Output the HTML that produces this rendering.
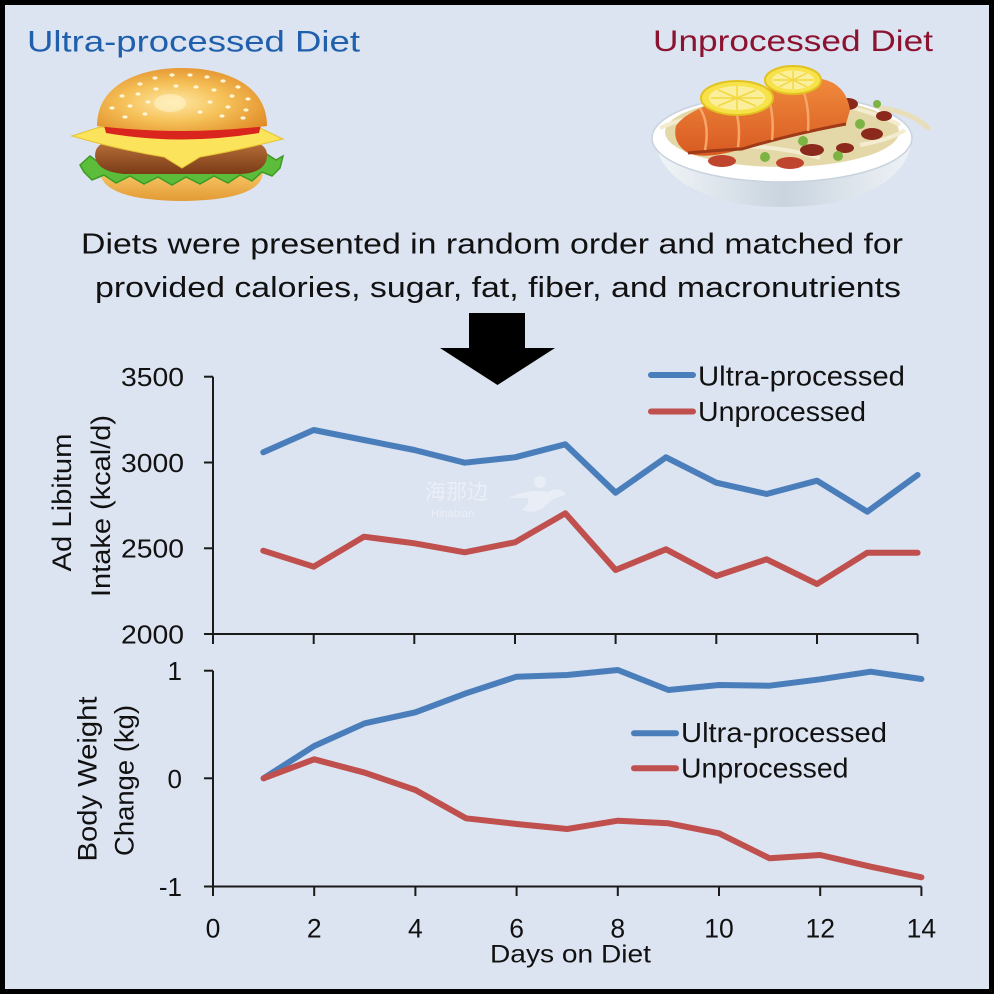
<!DOCTYPE html>
<html>
<head>
<meta charset="utf-8">
<style>
html,body{margin:0;padding:0;background:#fff;}
svg{display:block;}
text{font-family:"Liberation Sans","Noto Sans CJK SC",sans-serif;}
</style>
</head>
<body>
<svg width="996" height="996" viewBox="0 0 996 996" xmlns="http://www.w3.org/2000/svg">
<defs>
<radialGradient id="bun" cx="0.45" cy="0.55" r="0.65">
<stop offset="0" stop-color="#fde8a6"/>
<stop offset="0.45" stop-color="#f6c25a"/>
<stop offset="1" stop-color="#e08a25"/>
</radialGradient>
<linearGradient id="bbun" x1="0" y1="0" x2="0" y2="1">
<stop offset="0" stop-color="#f7c866"/>
<stop offset="1" stop-color="#e39a35"/>
</linearGradient>
<linearGradient id="patty" x1="0" y1="0" x2="0" y2="1">
<stop offset="0" stop-color="#b8703a"/>
<stop offset="1" stop-color="#7a3b16"/>
</linearGradient>
<linearGradient id="bowl" x1="0" y1="0" x2="1" y2="0">
<stop offset="0" stop-color="#f2f5f8"/>
<stop offset="0.5" stop-color="#c9d4df"/>
<stop offset="1" stop-color="#eef2f6"/>
</linearGradient>
<linearGradient id="salmon" x1="0" y1="0" x2="0" y2="1">
<stop offset="0" stop-color="#f08a3c"/>
<stop offset="1" stop-color="#d85a22"/>
</linearGradient>
</defs>

<!-- background and border -->
<rect x="0" y="0" width="996" height="996" fill="#ffffff"/>
<rect x="2.5" y="2.5" width="989" height="989" fill="#dce3f1" stroke="#000" stroke-width="5"/>

<!-- titles -->
<text x="27" y="51.5" font-size="30" fill="#1f5fab" textLength="333" lengthAdjust="spacingAndGlyphs">Ultra-processed Diet</text>
<text x="653" y="51" font-size="30" fill="#8c1330" textLength="280" lengthAdjust="spacingAndGlyphs">Unprocessed Diet</text>

<!-- burger -->
<path d="M100,172 L263,172 Q262,200 182,201 Q102,200 100,172 Z" fill="url(#bbun)"/>
<path d="M80,165 L90,156 L98,162 L108,154 L118,161 L130,153 L142,160 L155,152 L168,159 L182,151 L196,159 L210,152 L224,160 L238,152 L252,160 L265,153 L276,160 L283,156 L280,168 L272,176 L262,172 L252,181 L240,175 L228,183 L214,176 L200,184 L186,177 L172,185 L158,177 L144,184 L130,176 L116,183 L104,175 L92,180 L84,172 Z" fill="#5cbd3a" stroke="#3e9a26" stroke-width="1.5"/>
<path d="M95,156 Q95,142 112,142 L252,142 Q268,144 267,157 Q265,173 240,174 L125,174 Q97,172 95,156 Z" fill="url(#patty)"/>
<path d="M72,136 L100,127 Q182,134 258,127 L283,139 Q240,150 200,157 L182,168 L164,157 Q120,150 72,136 Z" fill="#fbe35c" stroke="#e7c431" stroke-width="1"/>
<path d="M103,121 Q182,137 262,121 L259,133 Q182,146 106,133 Z" fill="#d9251d"/>
<path d="M97,126 C97,84 140,68 182,68 C224,68 267,84 267,126 Q182,136 97,126 Z" fill="url(#bun)"/>
<g fill="#fff6d8">
<ellipse cx="140" cy="84" rx="2.6" ry="1.6"/><ellipse cx="155" cy="78" rx="2.6" ry="1.6"/><ellipse cx="172" cy="75" rx="2.6" ry="1.6"/><ellipse cx="190" cy="75" rx="2.6" ry="1.6"/><ellipse cx="207" cy="77" rx="2.6" ry="1.6"/><ellipse cx="223" cy="81" rx="2.6" ry="1.6"/><ellipse cx="238" cy="87" rx="2.6" ry="1.6"/>
<ellipse cx="122" cy="96" rx="2.6" ry="1.6"/><ellipse cx="138" cy="94" rx="2.6" ry="1.6"/><ellipse cx="156" cy="89" rx="2.6" ry="1.6"/><ellipse cx="176" cy="86" rx="2.6" ry="1.6"/><ellipse cx="196" cy="87" rx="2.6" ry="1.6"/><ellipse cx="214" cy="90" rx="2.6" ry="1.6"/><ellipse cx="232" cy="96" rx="2.6" ry="1.6"/><ellipse cx="248" cy="99" rx="2.6" ry="1.6"/>
<ellipse cx="112" cy="108" rx="2.6" ry="1.6"/><ellipse cx="130" cy="106" rx="2.6" ry="1.6"/><ellipse cx="148" cy="102" rx="2.6" ry="1.6"/><ellipse cx="210" cy="102" rx="2.6" ry="1.6"/><ellipse cx="228" cy="107" rx="2.6" ry="1.6"/><ellipse cx="246" cy="110" rx="2.6" ry="1.6"/>
<ellipse cx="125" cy="117" rx="2.6" ry="1.6"/><ellipse cx="145" cy="114" rx="2.6" ry="1.6"/><ellipse cx="200" cy="112" rx="2.6" ry="1.6"/><ellipse cx="222" cy="116" rx="2.6" ry="1.6"/><ellipse cx="243" cy="118" rx="2.6" ry="1.6"/>
</g>
<ellipse cx="170" cy="103" rx="16" ry="9" fill="#fff3c8" opacity="0.6"/>

<!-- bowl -->
<path d="M655,140 C660,186 720,207 782,207 C850,207 906,186 912,140 Z" fill="url(#bowl)"/>
<ellipse cx="782" cy="138" rx="130" ry="44" fill="#ffffff" stroke="#c9d3de" stroke-width="1.5"/>
<ellipse cx="782" cy="132" rx="117" ry="35" fill="#e4d8a8"/>
<path d="M660,128 Q700,110 740,118 M700,150 Q760,140 820,158 M820,100 Q870,110 900,125 M860,145 Q890,140 905,130" stroke="#f3ecd0" stroke-width="4" fill="none"/>
<path d="M880,108 Q912,112 928,128" stroke="#e8dfb8" stroke-width="5" fill="none" stroke-linecap="round"/>
<g fill="#8b2a1c">
<ellipse cx="822" cy="120" rx="12" ry="7"/><ellipse cx="848" cy="104" rx="10" ry="6"/><ellipse cx="872" cy="134" rx="11" ry="6"/><ellipse cx="812" cy="150" rx="12" ry="6"/><ellipse cx="884" cy="116" rx="8" ry="5"/><ellipse cx="845" cy="148" rx="9" ry="5"/>
</g>
<g fill="#c0452e">
<ellipse cx="722" cy="161" rx="14" ry="6"/><ellipse cx="790" cy="163" rx="14" ry="6"/><ellipse cx="700" cy="116" rx="9" ry="5"/>
</g>
<g fill="#7cb342">
<circle cx="836" cy="112" r="5"/><circle cx="803" cy="141" r="5"/><circle cx="860" cy="124" r="5"/><circle cx="765" cy="157" r="5"/><circle cx="838" cy="156" r="5"/><circle cx="877" cy="104" r="4"/>
</g>
<path d="M676,126 Q688,106 760,90 L822,79 Q846,84 850,110 L846,124 Q792,134 742,149 Q705,160 688,153 Q672,143 676,126 Z" fill="url(#salmon)"/>
<path d="M688,153 Q720,150 742,149 Q792,134 846,124" stroke="#9e3a18" stroke-width="3" fill="none"/>
<path d="M700,108 Q710,125 705,150 M730,98 Q742,118 738,147 M765,90 Q775,110 772,140 M800,83 Q810,103 808,131" stroke="#f7a669" stroke-width="2.5" fill="none"/>
<ellipse cx="737" cy="98" rx="36" ry="17" fill="#f7e24a" stroke="#e2c21f" stroke-width="2"/>
<ellipse cx="737" cy="98" rx="28" ry="12" fill="#fbef9c"/>
<path d="M737,86 L737,110 M711,98 L763,98 M718,90 L756,106 M718,106 L756,90" stroke="#f1d842" stroke-width="1.5"/>
<ellipse cx="793" cy="80" rx="28" ry="14" fill="#f7e24a" stroke="#e2c21f" stroke-width="2"/>
<ellipse cx="793" cy="80" rx="21" ry="9.5" fill="#fbef9c"/>
<path d="M793,71 L793,89 M773,80 L813,80 M779,73 L807,87 M779,87 L807,73" stroke="#f1d842" stroke-width="1.5"/>

<!-- middle text -->
<text x="81" y="253.5" font-size="28.5" fill="#111" textLength="822" lengthAdjust="spacingAndGlyphs">Diets were presented in random order and matched for</text>
<text x="95" y="297" font-size="28.5" fill="#111" textLength="806" lengthAdjust="spacingAndGlyphs">provided calories, sugar, fat, fiber, and macronutrients</text>

<!-- arrow -->
<polygon points="469,313 525,313 525,348 555,348 497.5,385 440,348 469,348" fill="#000"/>

<!-- watermark -->
<text x="425" y="499" font-size="21" fill="#ffffff" opacity="0.45">海那边</text>
<text x="431" y="517" font-size="11" fill="#ffffff" opacity="0.45">Hinabian</text>
<path d="M508,498 Q530,488 548,492 Q560,485 566,495 Q552,498 545,506 Q535,515 522,510 Q530,503 528,498 Z" fill="#ffffff" opacity="0.35"/>
<circle cx="540" cy="482" r="6" fill="#ffffff" opacity="0.35"/>

<!-- ===== Top chart ===== -->
<g stroke="#1a1a1a" stroke-width="2" fill="none">
<line x1="213" y1="376.7" x2="213" y2="644"/>
<line x1="204" y1="376.7" x2="213" y2="376.7"/>
<line x1="204" y1="462.5" x2="213" y2="462.5"/>
<line x1="204" y1="548.3" x2="213" y2="548.3"/>
<line x1="204" y1="634" x2="917.6" y2="634"/>
<line x1="313.7" y1="634" x2="313.7" y2="644"/>
<line x1="414.3" y1="634" x2="414.3" y2="644"/>
<line x1="515" y1="634" x2="515" y2="644"/>
<line x1="615.6" y1="634" x2="615.6" y2="644"/>
<line x1="716.3" y1="634" x2="716.3" y2="644"/>
<line x1="817" y1="634" x2="817" y2="644"/>
<line x1="917.6" y1="634" x2="917.6" y2="644"/>
</g>
<g font-size="25.5" fill="#111" text-anchor="end">
<text x="184" y="386" textLength="63" lengthAdjust="spacingAndGlyphs">3500</text>
<text x="184" y="471.8" textLength="63" lengthAdjust="spacingAndGlyphs">3000</text>
<text x="184" y="557.6" textLength="63" lengthAdjust="spacingAndGlyphs">2500</text>
<text x="184" y="643.3" textLength="63" lengthAdjust="spacingAndGlyphs">2000</text>
</g>
<text transform="translate(71,502.5) rotate(-90)" font-size="27" fill="#111" text-anchor="middle" textLength="138" lengthAdjust="spacingAndGlyphs">Ad Libitum</text>
<text transform="translate(110,506) rotate(-90)" font-size="27" fill="#111" text-anchor="middle" textLength="182" lengthAdjust="spacingAndGlyphs">Intake (kcal/d)</text>

<polyline fill="none" stroke="#4a7ebb" stroke-width="6" stroke-linejoin="round" stroke-linecap="round"
points="263.3,452.3 313.7,430 364,440 414.3,450 464.7,462.7 515,457.3 565.3,444.3 615.6,492.7 666,457.3 716.3,482.7 766.6,494 817,480.7 867.3,511.7 917.6,475"/>
<polyline fill="none" stroke="#c0504d" stroke-width="6" stroke-linejoin="round" stroke-linecap="round"
points="263.3,550.7 313.7,566.7 364,536.7 414.3,543.3 464.7,552.3 515,542.3 565.3,513.3 615.6,570 666,549.3 716.3,576 766.6,559.3 817,584 867.3,552.7 917.6,552.7"/>

<line x1="651" y1="375" x2="693" y2="375" stroke="#4a7ebb" stroke-width="6" stroke-linecap="round"/>
<line x1="651" y1="411.5" x2="693" y2="411.5" stroke="#c0504d" stroke-width="6" stroke-linecap="round"/>
<text x="698" y="385.5" font-size="28" fill="#111" textLength="207" lengthAdjust="spacingAndGlyphs">Ultra-processed</text>
<text x="698" y="421" font-size="28" fill="#111" textLength="168" lengthAdjust="spacingAndGlyphs">Unprocessed</text>

<!-- ===== Bottom chart ===== -->
<g stroke="#1a1a1a" stroke-width="2" fill="none">
<line x1="213" y1="670.7" x2="213" y2="896"/>
<line x1="204" y1="670.7" x2="213" y2="670.7"/>
<line x1="204" y1="778.3" x2="213" y2="778.3"/>
<line x1="204" y1="886.5" x2="921.4" y2="886.5"/>
<line x1="314.2" y1="886.5" x2="314.2" y2="896"/>
<line x1="415.4" y1="886.5" x2="415.4" y2="896"/>
<line x1="516.6" y1="886.5" x2="516.6" y2="896"/>
<line x1="617.8" y1="886.5" x2="617.8" y2="896"/>
<line x1="719" y1="886.5" x2="719" y2="896"/>
<line x1="820.2" y1="886.5" x2="820.2" y2="896"/>
<line x1="921.4" y1="886.5" x2="921.4" y2="896"/>
</g>
<g font-size="26" fill="#111" text-anchor="end">
<text x="182" y="680">1</text>
<text x="182" y="788">0</text>
<text x="182" y="896">-1</text>
</g>
<g font-size="26.5" fill="#111" text-anchor="middle">
<text x="213" y="937.5">0</text>
<text x="314.2" y="937.5">2</text>
<text x="415.4" y="937.5">4</text>
<text x="516.6" y="937.5">6</text>
<text x="617.8" y="937.5">8</text>
<text x="719" y="937.5">10</text>
<text x="820.2" y="937.5">12</text>
<text x="921.4" y="937.5">14</text>
</g>
<text x="490" y="962.5" font-size="25" fill="#111" textLength="161" lengthAdjust="spacingAndGlyphs">Days on Diet</text>
<text transform="translate(96.7,779) rotate(-90)" font-size="27" fill="#111" text-anchor="middle" textLength="165" lengthAdjust="spacingAndGlyphs">Body Weight</text>
<text transform="translate(133.5,780.5) rotate(-90)" font-size="27" fill="#111" text-anchor="middle" textLength="151" lengthAdjust="spacingAndGlyphs">Change (kg)</text>

<polyline fill="none" stroke="#4a7ebb" stroke-width="6" stroke-linejoin="round" stroke-linecap="round"
points="263.6,778.3 314.2,746 364.8,723.3 415.4,712.3 466,693.3 516.6,676.7 567.2,675 617.8,670 668.4,690 719,685 769.6,685.7 820.2,679.3 870.8,671.7 921.4,679"/>
<polyline fill="none" stroke="#c0504d" stroke-width="6" stroke-linejoin="round" stroke-linecap="round"
points="263.6,778.3 314.2,759.3 364.8,772.7 415.4,790 466,818.3 516.6,824 567.2,829 617.8,820.7 668.4,823.3 719,833.3 769.6,858.3 820.2,855 870.8,866.7 921.4,877.3"/>

<line x1="634" y1="733.3" x2="676" y2="733.3" stroke="#4a7ebb" stroke-width="6" stroke-linecap="round"/>
<line x1="634" y1="768.3" x2="676" y2="768.3" stroke="#c0504d" stroke-width="6" stroke-linecap="round"/>
<text x="681" y="742" font-size="28" fill="#111" textLength="206" lengthAdjust="spacingAndGlyphs">Ultra-processed</text>
<text x="681" y="777.5" font-size="28" fill="#111" textLength="167.5" lengthAdjust="spacingAndGlyphs">Unprocessed</text>
</svg>
</body>
</html>
